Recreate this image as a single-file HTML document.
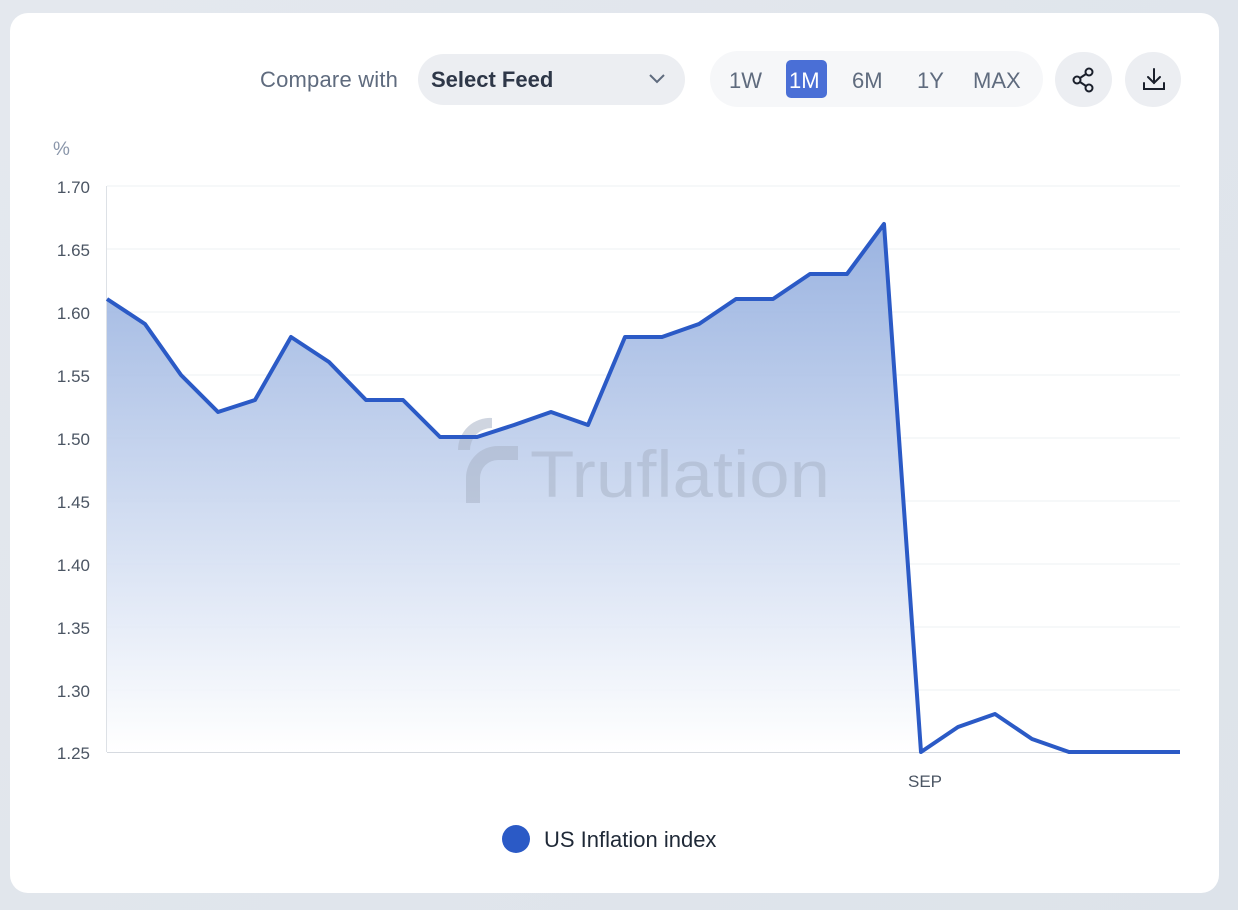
<!DOCTYPE html>
<html><head><meta charset="utf-8"><style>
html,body{margin:0;padding:0;}
body{width:1238px;height:910px;background:linear-gradient(135deg,#e4e8ee,#dde3ea);font-family:"Liberation Sans",sans-serif;position:relative;overflow:hidden;}
.card{position:absolute;left:10px;top:13px;width:1209px;height:880px;background:#fff;border-radius:18px;}
.abs{position:absolute;}
</style></head><body>
<div class="card"></div>
<div class="abs" style="left:260px;top:67px;font-size:22px;color:#5f6b7e;letter-spacing:0.2px">Compare with</div>
<div class="abs" style="left:418px;top:54px;width:267px;height:51px;background:#eceef2;border-radius:26px;"></div>
<div class="abs" style="left:431px;top:67px;font-size:22px;font-weight:bold;color:#2e3748;">Select Feed</div>
<svg class="abs" style="left:648px;top:73px" width="18" height="12"><polyline points="2,2 9,9 16,2" fill="none" stroke="#5f6b7e" stroke-width="2"/></svg>
<div class="abs" style="left:710px;top:51px;width:333px;height:56px;background:#f6f7f9;border-radius:28px;"></div>
<div class="abs" style="left:786px;top:60px;width:41px;height:38px;background:#4a6fd6;border-radius:5px;"></div>
<div class="abs" style="left:729px;top:68px;font-size:22px;color:#5f6b7e;">1W</div>
<div class="abs" style="left:789px;top:68px;font-size:22px;color:#fff;">1M</div>
<div class="abs" style="left:852px;top:68px;font-size:22px;color:#5f6b7e;">6M</div>
<div class="abs" style="left:917px;top:68px;font-size:22px;color:#5f6b7e;">1Y</div>
<div class="abs" style="left:973px;top:68px;font-size:22px;color:#5f6b7e;">MAX</div>
<div class="abs" style="left:1055px;top:52px;width:57px;height:55px;background:#eceef2;border-radius:28px;"></div>
<div class="abs" style="left:1125px;top:52px;width:56px;height:55px;background:#eceef2;border-radius:28px;"></div>
<svg class="abs" style="left:1070px;top:66px" width="28" height="28"><g fill="none" stroke="#1a1f2b" stroke-width="2"><circle cx="7" cy="14" r="3.5"/><circle cx="19" cy="6" r="3.5"/><circle cx="19" cy="22" r="3.5"/><line x1="10" y1="12" x2="16" y2="8"/><line x1="10" y1="16" x2="16" y2="20"/></g></svg>
<svg class="abs" style="left:1140px;top:66px" width="28" height="28"><g fill="none" stroke="#1a1f2b" stroke-width="2" stroke-linecap="round"><line x1="14" y1="3" x2="14" y2="17"/><polyline points="8,11 14,17 20,11"/><polyline points="4,17 4,23 24,23 24,17"/></g></svg>
<svg class="abs" style="left:0;top:0" width="1238" height="910">
<defs><linearGradient id="g" gradientUnits="userSpaceOnUse" x1="0" y1="220" x2="0" y2="752"><stop offset="0" stop-color="#8eaadd" stop-opacity="0.9"/><stop offset="1" stop-color="#ffffff" stop-opacity="0.9"/></linearGradient></defs>
<text x="53" y="155" font-size="19" fill="#8a96aa" font-family="Liberation Sans">%</text>
<g stroke="#eef0f3" stroke-width="1">
<line x1="107" x2="1180" y1="186" y2="186"/><line x1="107" x2="1180" y1="249" y2="249"/><line x1="107" x2="1180" y1="312" y2="312"/><line x1="107" x2="1180" y1="375" y2="375"/><line x1="107" x2="1180" y1="438" y2="438"/><line x1="107" x2="1180" y1="501" y2="501"/><line x1="107" x2="1180" y1="564" y2="564"/><line x1="107" x2="1180" y1="627" y2="627"/><line x1="107" x2="1180" y1="690" y2="690"/>
</g>
<line x1="106.5" x2="106.5" y1="186" y2="752" stroke="#dde1e6"/>
<polygon fill="url(#g)" points="107,752 107,299 145,324 181,375 218,412 255,400 291,337 329,362 366,400 403,400 440,437 477,437 514,425 551,412 588,425 625,337 662,337 699,324 736,299 773,299 810,274 847,274 884,224 921,752"/>
<line x1="107" x2="1180" y1="752.5" y2="752.5" stroke="#d6dae0"/>
<g font-size="17" fill="#4b5563" font-family="Liberation Sans" text-anchor="end">
<text x="90" y="193">1.70</text><text x="90" y="256">1.65</text><text x="90" y="319">1.60</text><text x="90" y="382">1.55</text><text x="90" y="445">1.50</text><text x="90" y="508">1.45</text><text x="90" y="571">1.40</text><text x="90" y="634">1.35</text><text x="90" y="697">1.30</text><text x="90" y="759">1.25</text>
</g>
<text x="925" y="787" font-size="17" fill="#4b5563" text-anchor="middle" font-family="Liberation Sans">SEP</text>
<g fill="#a9b4c8" opacity="0.55">
<text x="530" y="497" font-size="66" font-family="Liberation Sans" textLength="300" lengthAdjust="spacingAndGlyphs">Truflation</text>
<path d="M458 450 h12 a22 22 0 0 1 22 -22 v-10 a32 32 0 0 0 -34 32z"/>
<path d="M480 503 v-25 a18 18 0 0 1 18 -18 h20 v-14 h-20 a32 32 0 0 0 -32 32 v25z"/>
</g>
<polyline fill="none" stroke="#2b5ac6" stroke-width="4" stroke-linejoin="round" points="107,299 145,324 181,375 218,412 255,400 291,337 329,362 366,400 403,400 440,437 477,437 514,425 551,412 588,425 625,337 662,337 699,324 736,299 773,299 810,274 847,274 884,224 921,752 958,727 995,714 1032,739 1069,752 1106,752 1143,752 1180,752"/>
<circle cx="516" cy="839" r="14" fill="#2b5ac6"/>
<text x="544" y="847" font-size="22" fill="#1f2937" font-family="Liberation Sans">US Inflation index</text>
</svg>
</body></html>
